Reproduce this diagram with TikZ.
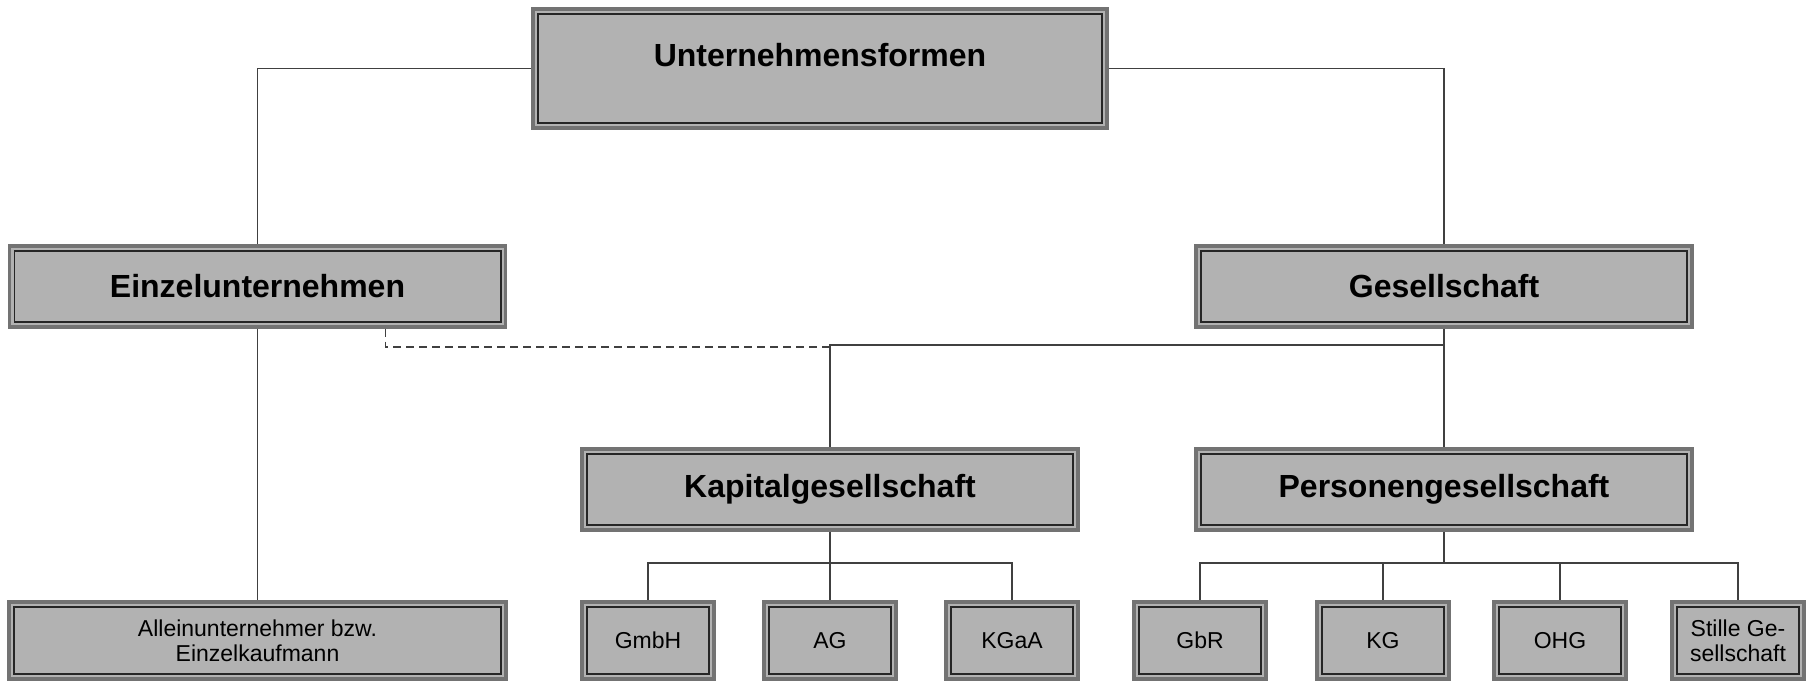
\documentclass[tikz,border=0pt]{standalone}
\usepackage{fontspec}
\setmainfont{Liberation Sans}

\begin{document}
\begin{tikzpicture}[
    x=0.5pt, y=-0.5pt,
    box/.style={fill=black!30, draw=black!55, line width=1.6pt, inner sep=0pt, align=center,
        path picture={\draw[black!85, line width=0.8pt] ([shift={(2.4pt,-2.4pt)}]path picture bounding box.north west) rectangle ([shift={(-2.4pt,2.4pt)}]path picture bounding box.south east);}},
    head/.style={box, font=\fontsize{16}{19}\selectfont\bfseries, minimum width=248pt, minimum height=40.5pt},
    leaf/.style={box, font=\fontsize{11.5}{12.5}\selectfont, minimum width=66pt, minimum height=38.5pt},
    link/.style={draw=black!75, line width=0.6pt}
]
    \useasboundingbox (0,0) rectangle (1814,681);

    % Nodes
    \node[box, font=\fontsize{16}{19}\selectfont\bfseries, minimum width=287pt, text height=28.75pt, text depth=30.75pt] (unform) at (820,68.5) {Unternehmensformen};
    \node[head] (einzel) at (257.5,286.5) {Einzelunternehmen};
    \node[head] (ges) at (1444,286.5) {Gesellschaft};
    \node[head] (kap) at (830,489.5) {Kapitalgesellschaft};
    \node[head] (pers) at (1444,489.5) {Personengesellschaft};

    \node[leaf, minimum width=248.5pt] (allein) at (257.5,640.5) {Alleinunternehmer bzw.\\Einzelkaufmann};
    \node[leaf] (gmbh) at (648,640.5) {GmbH};
    \node[leaf] (ag) at (830,640.5) {AG};
    \node[leaf] (kgaa) at (1012,640.5) {KGaA};
    \node[leaf] (gbr) at (1200,640.5) {GbR};
    \node[leaf] (kg) at (1383,640.5) {KG};
    \node[leaf] (ohg) at (1560,640.5) {OHG};
    \node[leaf] (stille) at (1738,640.5) {Stille Ge-\\sellschaft};

    % Branch points
    \coordinate (split) at (1444,345);
    \coordinate (kbus) at (830,563);
    \coordinate (pbus) at (1444,563);

    % Top level
    \draw[link] (unform.west) -| (einzel.north);
    \draw[link] (unform.east) -| (ges.north);

    % Gesellschaft
    \draw[link] (ges.south) -- (pers.north);
    \draw[link] (split) -| (kap.north);
    \draw[link, dash pattern=on 4pt off 2.5pt] ([xshift=64pt]einzel.south) |- ([yshift=-1pt]split -| kap.north);

    % Einzelunternehmen
    \draw[link] (einzel.south) -- (allein.north);

    % Rechtsformen
    \draw[link] (kap.south) -- (kbus);
    \foreach \n in {gmbh, ag, kgaa}
        \draw[link] (kbus) -| (\n.north);
    \draw[link] (pers.south) -- (pbus);
    \foreach \n in {gbr, kg, ohg, stille}
        \draw[link] (pbus) -| (\n.north);

\end{tikzpicture}
\end{document}
